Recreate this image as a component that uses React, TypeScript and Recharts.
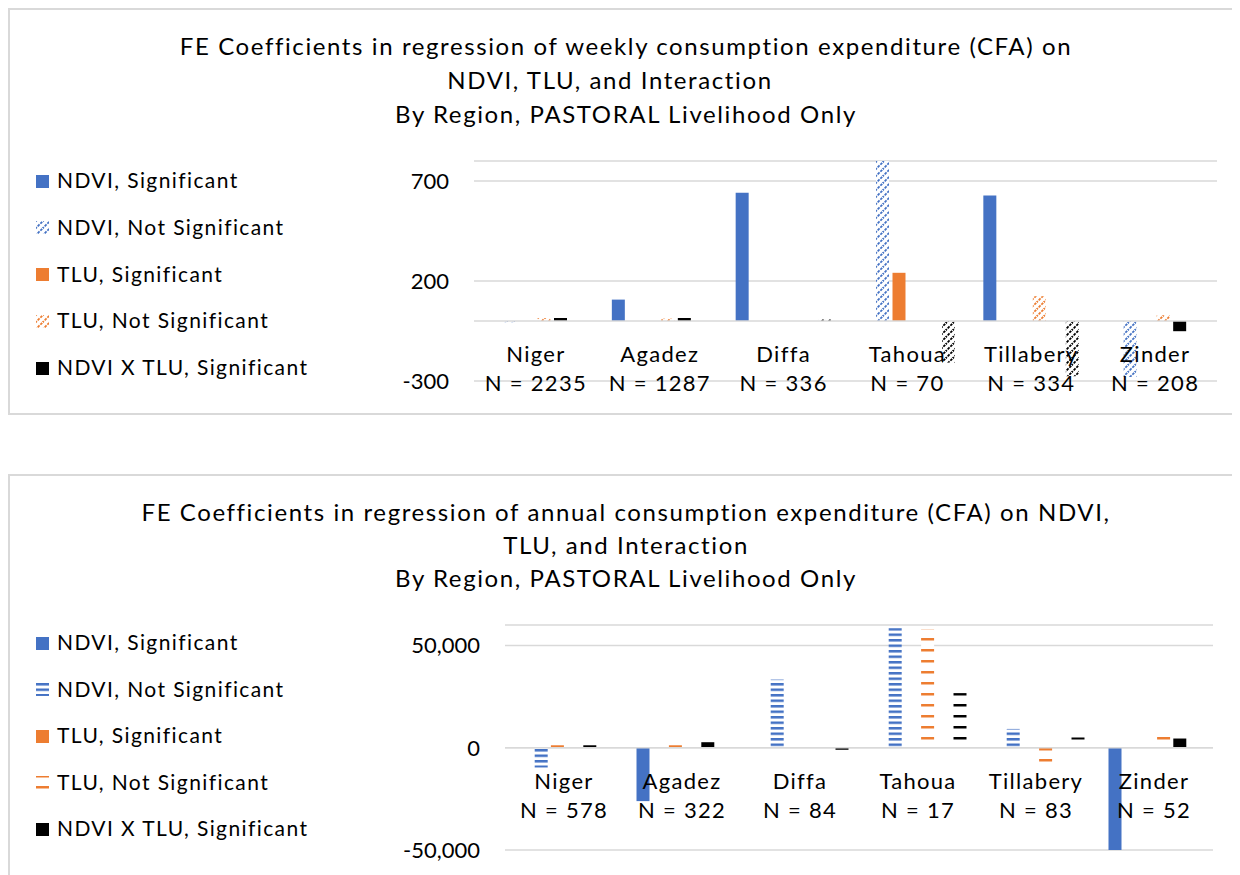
import { BarChart, Bar, XAxis, YAxis, CartesianGrid, ReferenceLine } from "recharts";

const regions = ["Niger", "Agadez", "Diffa", "Tahoua", "Tillabery", "Zinder"];

// weekly consumption (top chart)
const weeklyN = [2235, 1287, 336, 70, 334, 208];
const weeklyNdviSig = [null, 107, 641, null, 627, null];
const weeklyNdviNotSig = [-6, null, null, 820, null, -280];
const weeklyTluSig = [null, null, null, 241, null, null];
const weeklyTluNotSig = [15, 12, null, null, 124, 29];
const weeklyIxSig = [15, 15, null, null, null, -51];
const weeklyIxNotSig = [null, null, 8, -208, -276, null];
const weeklyTicks = [-300, 200, 700];
const weeklyDomain = [-300, 800];

// annual consumption (bottom chart)
const annualN = [578, 322, 84, 17, 83, 52];
const annualNdviSig = [null, -26100, null, null, null, -52000];
const annualNdviNotSig = [-9700, null, 33300, 58400, 9200, null];
const annualTluSig = [1200, 1200, null, null, null, null];
const annualTluNotSig = [null, null, null, 57800, -7900, 8000];
const annualIxSig = [1200, 2700, null, null, null, 4500];
const annualIxNotSig = [null, null, -1000, 26700, 5000, null];
const annualTicks = [-50000, 0, 50000];
const annualDomain = [-50000, 60000];

const BLUE = "#4472C4";
const ORANGE = "#ED7D31";
const BLACK = "#000000";
const GRID = "#d9d9d9";
const FONT = "Lato, 'Open Sans', sans-serif";

const buildRows = (cols: (number | null)[][], counts: number[]) =>
  regions.map((region, i) => ({
    region,
    n: counts[i],
    ndviSig: cols[0][i],
    ndviNs: cols[1][i],
    tluSig: cols[2][i],
    tluNs: cols[3][i],
    ixSig: cols[4][i],
    ixNs: cols[5][i],
  }));

const weeklyRows = buildRows(
  [weeklyNdviSig, weeklyNdviNotSig, weeklyTluSig, weeklyTluNotSig, weeklyIxSig, weeklyIxNotSig],
  weeklyN
);
const annualRows = buildRows(
  [annualNdviSig, annualNdviNotSig, annualTluSig, annualTluNotSig, annualIxSig, annualIxNotSig],
  annualN
);

type Series = { key: string; name: string; fill: string; legend: boolean };

const weeklySeries: Series[] = [
  { key: "ndviSig", name: "NDVI, Significant", fill: BLUE, legend: true },
  { key: "ndviNs", name: "NDVI, Not Significant", fill: "url(#diagBlue)", legend: true },
  { key: "tluSig", name: "TLU, Significant", fill: ORANGE, legend: true },
  { key: "tluNs", name: "TLU, Not Significant", fill: "url(#diagOrange)", legend: true },
  { key: "ixSig", name: "NDVI X TLU, Significant", fill: BLACK, legend: true },
  { key: "ixNs", name: "NDVI X TLU, Not Significant", fill: "url(#diagBlack)", legend: false },
];

const annualSeries: Series[] = [
  { key: "ndviSig", name: "NDVI, Significant", fill: BLUE, legend: true },
  { key: "ndviNs", name: "NDVI, Not Significant", fill: "url(#horBlue)", legend: true },
  { key: "tluSig", name: "TLU, Significant", fill: ORANGE, legend: true },
  { key: "tluNs", name: "TLU, Not Significant", fill: "url(#horOrange)", legend: true },
  { key: "ixSig", name: "NDVI X TLU, Significant", fill: BLACK, legend: true },
  { key: "ixNs", name: "NDVI X TLU, Not Significant", fill: "url(#horBlack)", legend: false },
];

// shared svg patterns (ids are global to the page)
function Patterns() {
  const diag = (id: string, c: string) => (
    <pattern id={id} patternUnits="userSpaceOnUse" width={7} height={7}>
      <rect width={7} height={7} fill="#fff" />
      <path
        d="M-1,8 L8,-1 M-1,1 L1,-1 M6,8 L8,6"
        stroke={c}
        strokeWidth={1.8}
        strokeDasharray="2.6 1.2"
      />
    </pattern>
  );
  // stripes lined up with the zero line of the lower chart
  const hor = (id: string, c: string, period: number, y0: number) => (
    <pattern id={id} patternUnits="userSpaceOnUse" y={y0} width={8} height={period}>
      <rect width={8} height={period} fill="#fff" />
      <rect y={0} width={8} height={2.5} fill={c} />
    </pattern>
  );
  return (
    <svg width={0} height={0} style={{ position: "absolute" }}>
      <defs>
        {diag("diagBlue", BLUE)}
        {diag("diagOrange", ORANGE)}
        {diag("diagBlack", BLACK)}
        {hor("horBlue", BLUE, 5.5, 0)}
        {hor("horOrange", ORANGE, 11, 263)}
        {hor("horBlack", BLACK, 11, 263)}
      </defs>
    </svg>
  );
}

function RegionTick(props: any) {
  const { x, y, payload, shift, counts } = props;
  const i = regions.indexOf(payload.value);
  return (
    <g transform={`translate(${x},${y - shift})`}>
      <text x={0} y={41} textAnchor="middle" fontSize={22} fill="#000" style={{ letterSpacing: 1.3 }}>
        {payload.value}
      </text>
      <text x={0} y={70} textAnchor="middle" fontSize={22} fill="#000" style={{ letterSpacing: 1.3 }}>
        {`N = ${counts[i]}`}
      </text>
    </g>
  );
}

interface PanelProps {
  top: number;
  boxH: number;
  title: string[];
  titleShift: number[];
  titleTop: number;
  titleLine: number;
  legendTop: number;
  legendStep: number;
  rows: any[];
  series: Series[];
  counts: number[];
  domain: number[];
  ticks: number[];
  margin: { top: number; right: number; bottom: number; left: number };
  height: number;
  catGap: number;
  barGap: number;
  fmt: (v: number) => string;
}

function Panel(p: PanelProps) {
  const xAxisH = 30;
  const plotH = p.height - p.margin.top - p.margin.bottom - xAxisH;
  const shift = (plotH * (0 - p.domain[0])) / (p.domain[1] - p.domain[0]);
  return (
    <>
      <div
        style={{
          position: "absolute",
          left: 0,
          top: p.top,
          width: 1260,
          height: p.boxH,
          border: `2px solid ${GRID}`,
          boxSizing: "border-box",
        }}
      />
      {p.title.map((t, i) => (
        <div
          key={i}
          style={{
            position: "absolute",
            left: p.titleShift[i],
            width: 1236,
            top: p.titleTop + i * p.titleLine,
            height: p.titleLine,
            lineHeight: `${p.titleLine}px`,
            textAlign: "center",
            fontSize: 24,
            letterSpacing: 1.6,
            color: "#000",
            whiteSpace: "nowrap",
          }}
        >
          {t}
        </div>
      ))}
      {p.series
        .filter((s) => s.legend)
        .map((s, i) => (
          <div
            key={s.key}
            style={{
              position: "absolute",
              left: 28,
              top: p.legendTop + i * p.legendStep - 15,
              height: 30,
              lineHeight: "30px",
              fontSize: 21,
              letterSpacing: 1.4,
              color: "#000",
              whiteSpace: "nowrap",
            }}
          >
            <svg width={13} height={13} style={{ verticalAlign: "middle", marginRight: 8, marginTop: -3 }}>
              <rect width={13} height={13} fill={s.fill} />
            </svg>
            {s.name}
          </div>
        ))}
      <div style={{ position: "absolute", left: 0, top: p.top }}>
        <BarChart
          width={1232}
          height={p.height}
          data={p.rows}
          margin={p.margin}
          barCategoryGap={p.catGap}
          barGap={p.barGap}
        >
          <CartesianGrid horizontal vertical={false} stroke={GRID} strokeWidth={1.5} />
          <XAxis
            dataKey="region"
            height={xAxisH}
            axisLine={false}
            tickLine={false}
            tickSize={0}
            tickMargin={0}
            interval={0}
            tick={(t: any) => <RegionTick {...t} shift={shift} counts={p.counts} />}
          />
          <YAxis
            width={60}
            domain={p.domain}
            ticks={p.ticks}
            allowDataOverflow
            axisLine={false}
            tickLine={false}
            tickSize={0}
            tickMargin={25}
            tickFormatter={p.fmt}
            tick={{ fontSize: 22, fill: "#000" }}
          />
          <ReferenceLine y={0} stroke={GRID} strokeWidth={1.5} />
          {p.series.map((s) => (
            <Bar key={s.key} dataKey={s.key} name={s.name} fill={s.fill} isAnimationActive={false} />
          ))}
        </BarChart>
      </div>
    </>
  );
}

export default function App() {
  return (
    <div
      style={{
        position: "relative",
        width: 1232,
        height: 867,
        overflow: "hidden",
        fontFamily: FONT,
      }}
    >
      <Patterns />
      <Panel
        top={0}
        boxH={407}
        title={[
          "FE Coefficients in regression of weekly consumption expenditure (CFA) on",
          "NDVI, TLU, and Interaction",
          "By Region, PASTORAL Livelihood Only",
        ]}
        titleShift={[0, -16, 0]}
        titleTop={21}
        titleLine={34}
        legendTop={172}
        legendStep={46.75}
        rows={weeklyRows}
        series={weeklySeries}
        counts={weeklyN}
        domain={weeklyDomain}
        ticks={weeklyTicks}
        margin={{ top: 153, right: 23, bottom: 4, left: 406 }}
        height={407}
        catGap={14}
        barGap={3.5}
        fmt={(v) => String(v)}
      />
      <Panel
        top={466}
        boxH={500}
        title={[
          "FE Coefficients in regression of annual consumption expenditure (CFA) on NDVI,",
          "TLU, and Interaction",
          "By Region, PASTORAL Livelihood Only",
        ]}
        titleShift={[0, 0, 0]}
        titleTop={487}
        titleLine={33}
        legendTop={634}
        legendStep={46.5}
        rows={annualRows}
        series={annualSeries}
        counts={annualN}
        domain={annualDomain}
        ticks={annualTicks}
        margin={{ top: 151, right: 27, bottom: 15, left: 437 }}
        height={421}
        catGap={13.5}
        barGap={3.2}
        fmt={(v) => v.toLocaleString("en-US")}
      />
    </div>
  );
}
